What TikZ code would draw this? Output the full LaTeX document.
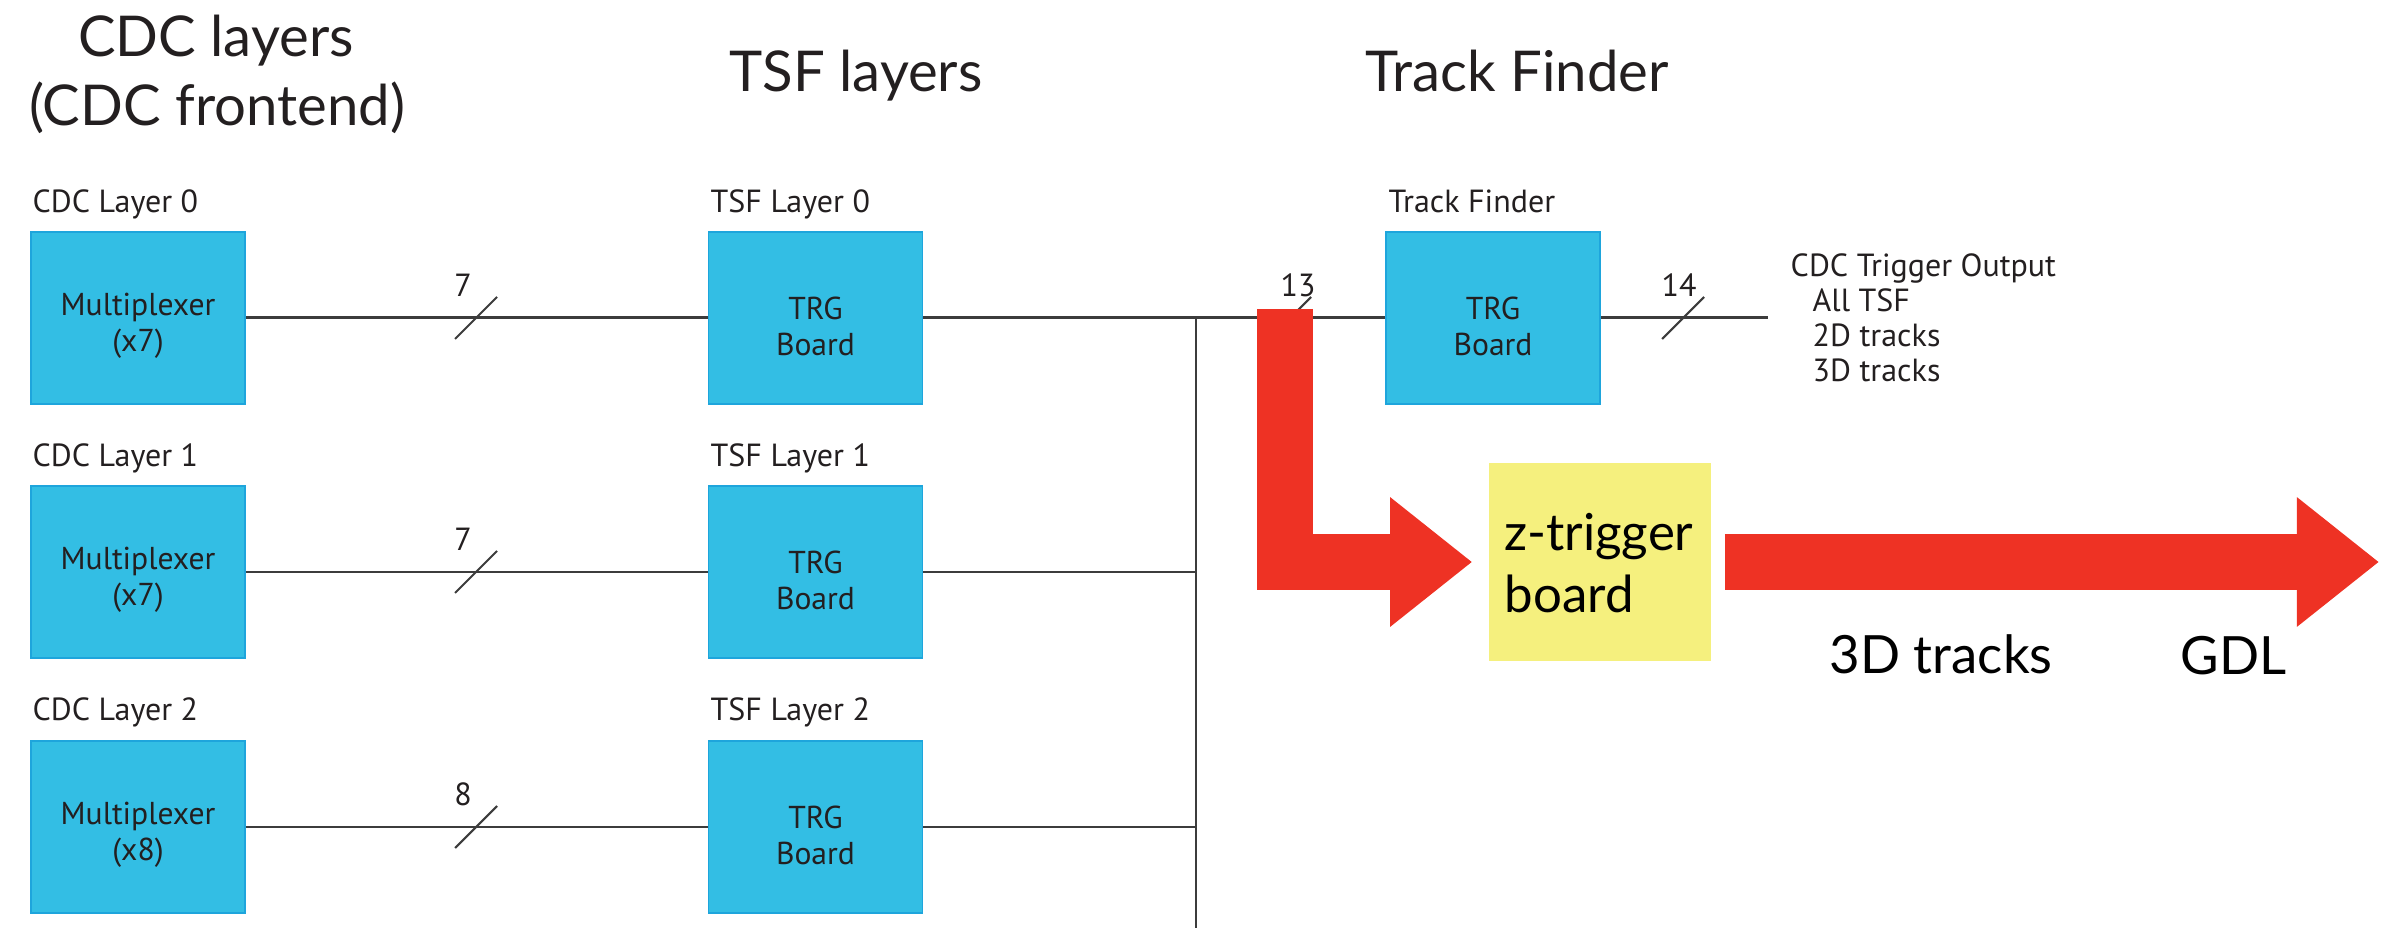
\documentclass[tikz,border=0pt]{standalone}
\usepackage{fontspec}
\setmainfont{Lato}
\newfontfamily\condfont{PT Sans}
\usetikzlibrary{arrows.meta}
\definecolor{boxblue}{RGB}{51,190,228}
\definecolor{boxedge}{RGB}{30,165,220}
\definecolor{arrowred}{RGB}{238,50,36}
\definecolor{zyellow}{RGB}{245,240,126}
\definecolor{wire}{RGB}{60,60,60}
\definecolor{ink}{RGB}{35,31,32}
\begin{document}
\begin{tikzpicture}[x=0.01cm,y=-0.01cm,
 blk/.style={draw=boxedge, line width=0.5pt, fill=boxblue, minimum width=2.14cm, minimum height=1.72cm, inner sep=0},
 boxtext/.style={inner sep=0, align=center, text=ink, font=\condfont\fontsize{9}{10.25}\selectfont},
 lbl/.style={anchor=base west, inner sep=0, text=ink, font=\condfont\fontsize{9.1}{10}\selectfont},
 numlbl/.style={anchor=base, inner sep=0, text=ink, font=\condfont\fontsize{9.1}{10}\selectfont},
 title/.style={anchor=base, inner sep=0, text=ink, font=\fontsize{16}{19.6}\selectfont},
 big/.style={inner sep=0, text=black, font=\fontsize{14.5}{17}\selectfont},
 wirel/.style={draw=wire, line width=0.85pt},
 busl/.style={draw=wire, line width=0.6pt},
 slash/.style={draw=wire, line width=0.6pt},
 bigarrow/.style={draw=arrowred, line width=0.56cm, -{Triangle[length=0.82cm,width=1.24cm]}},
]
\useasboundingbox (0,0) rectangle (2391,928);

% titles
\node[title] (t1) at (216,57) {CDC layers};
\node[title] (t2) at (217,126) {(CDC frontend)};
\node[title] (t3) at (856,92) {TSF layers};
\node[title] (t4) at (1517,92) {Track Finder};

% boxes
\node[blk] (cdc0) at (138,318) {};
\node[blk] (cdc1) at (138,572) {};
\node[blk] (cdc2) at (138,827) {};
\node[blk] (tsf0) at (815.5,318) {};
\node[blk] (tsf1) at (815.5,572) {};
\node[blk] (tsf2) at (815.5,827) {};
\node[blk] (tf) at (1493,318) {};
\node[fill=zyellow, minimum width=2.22cm, minimum height=1.98cm, inner sep=0] (zt) at (1600,562) {};

% box texts
\node[boxtext] (cdc0t) at ([yshift=-0.08cm]cdc0.center) {Multiplexer\\(x7)};
\node[boxtext] (cdc1t) at ([yshift=-0.08cm]cdc1.center) {Multiplexer\\(x7)};
\node[boxtext] (cdc2t) at ([yshift=-0.08cm]cdc2.center) {Multiplexer\\(x8)};
\node[boxtext] (tsf0t) at ([yshift=-0.08cm]tsf0.center) {TRG\\Board};
\node[boxtext] (tsf1t) at ([yshift=-0.08cm]tsf1.center) {TRG\\Board};
\node[boxtext] (tsf2t) at ([yshift=-0.08cm]tsf2.center) {TRG\\Board};
\node[boxtext] (tft) at ([yshift=-0.08cm]tf.center) {TRG\\Board};

% labels above boxes
\node[lbl] (l0) at (32,213) {CDC Layer 0};
\node[lbl] (l1) at (32,467) {CDC Layer 1};
\node[lbl] (l2) at (32,721) {CDC Layer 2};
\node[lbl] (s0) at (710,213) {TSF Layer 0};
\node[lbl] (s1) at (710,467) {TSF Layer 1};
\node[lbl] (s2) at (710,721) {TSF Layer 2};
\node[lbl] (f0) at (1388,213) {Track Finder};

% wires
\coordinate (bustop) at (1196,318);
\coordinate (busbot) at (1196,928);
\coordinate (outend) at (1768,318);
\draw[wirel] (cdc0.east) -- (tsf0.west);
\draw[wirel] (cdc1.east) -- (tsf1.west);
\draw[wirel] (cdc2.east) -- (tsf2.west);
\draw[wirel] (tsf0.east) -- (tf.west);
\draw[wirel] (tsf1.east) -- (tsf1.east -| bustop);
\draw[wirel] (tsf2.east) -- (tsf2.east -| bustop);
\draw[wirel] (tf.east) -- (outend);
\draw[busl] (bustop) -- (busbot);

% bus-width slashes and numbers
\draw[slash] (476,318) ++(21,-21) -- ++(-42,42);
\draw[slash] (476,572) ++(21,-21) -- ++(-42,42);
\draw[slash] (476,827) ++(21,-21) -- ++(-42,42);
\draw[slash] (1290,318) ++(21,-21) -- ++(-42,42);
\draw[slash] (1683,318) ++(21,-21) -- ++(-42,42);
\node[numlbl] (n0) at (463,297) {7};
\node[numlbl] (n1) at (463,551) {7};
\node[numlbl] (n2) at (463,805) {8};
\node[numlbl] (n3) at (1298,297) {13};
\node[numlbl] (n4) at (1679,297) {14};

% output text
\node[lbl] (o1) at (1790,277) {CDC Trigger Output};
\node[lbl] (o2) at (1812,312) {All TSF};
\node[lbl] (o3) at (1812,347) {2D tracks};
\node[lbl] (o4) at (1812,382) {3D tracks};

% red arrows
\coordinate (tap) at (1284.5,309);
\coordinate (gdlend) at (2379,562);
\draw[bigarrow, shorten >=0.16cm] (tap) |- (zt.west);
\draw[bigarrow] ([xshift=0.13cm]zt.east) -- (gdlend);

% z-trigger text
\node[big, anchor=base west] (zt1) at (1504,551) {z-trigger};
\node[big, anchor=base west] (zt2) at (1504,613) {board};
\node[big, anchor=base west, font=\fontsize{15}{18}\selectfont] (tr3d) at (1829,673) {3D tracks};
\node[big, anchor=base west, font=\fontsize{15}{18}\selectfont] (gdl) at (2180,675) {GDL};
\end{tikzpicture}
\end{document}
